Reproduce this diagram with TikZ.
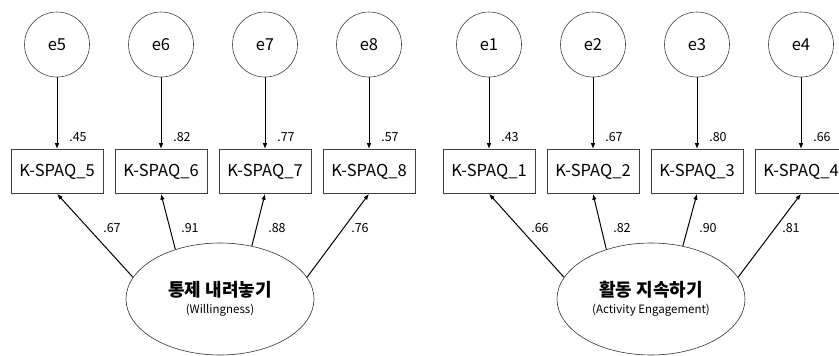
\documentclass[tikz,border=0pt]{standalone}
\usepackage{fontspec}
\setmainfont{Noto Sans CJK KR}
\usetikzlibrary{arrows.meta,shapes.geometric}

\begin{document}
\begin{tikzpicture}[x=1pt, y=-1pt, every node/.style={font=\fontsize{16.5}{19}\selectfont}, >={Latex[length=6pt,width=4.5pt]},
	errc/.style={circle, draw=black!75, line width=0.6pt, minimum size=65pt, inner sep=0pt},
	obsbox/.style={draw=black!75, line width=0.6pt, minimum width=92pt, minimum height=44pt, inner sep=0pt},
	latent/.style={ellipse, draw=black!80, line width=0.6pt, minimum width=188pt, minimum height=112pt, inner sep=0pt, align=center},
	coef/.style={font=\fontsize{12.5}{14}\selectfont},
	path/.style={->, line width=1pt}]
	\useasboundingbox (0,0) rectangle (839,356);
	% latent factors
	\node[latent] (will) at (220,299) {{\fontsize{18}{21}\selectfont\bfseries 통제 내려놓기}\\[-2pt]{\fontsize{11.5}{13}\selectfont (Willingness)}};
	\node[latent] (act) at (651,299) {{\fontsize{18}{21}\selectfont\bfseries 활동 지속하기}\\[-2pt]{\fontsize{11.5}{13}\selectfont (Activity Engagement)}};
	% indicators, errors and loadings
	\foreach \i/\x/\lf/\lx/\ang/\fac/\ev in {5/57/.67/112/166/will/.45, 6/161/.91/190/132/will/.82, 7/265/.88/277/59/will/.77, 8/369/.76/360/14/will/.57,
		1/489/.66/540/166/act/.43, 2/593/.82/622/132/act/.67, 3/697/.90/708/59/act/.80, 4/801/.81/791/14/act/.66} {
		\node[errc] (e\i) at (\x,44.5) {e\i};
		\node[obsbox] (k\i) at (\x,171.5) {K-SPAQ\_\i};
		\draw[path] (e\i) -- (k\i);
		\draw[path] (\fac.\ang) -- (k\i.south);
		\node[coef] (r\i) at (\x+21,137) {\ev};
		\node[coef] (l\i) at (\lx,228) {\lf};
	}
\end{tikzpicture}
\end{document}
